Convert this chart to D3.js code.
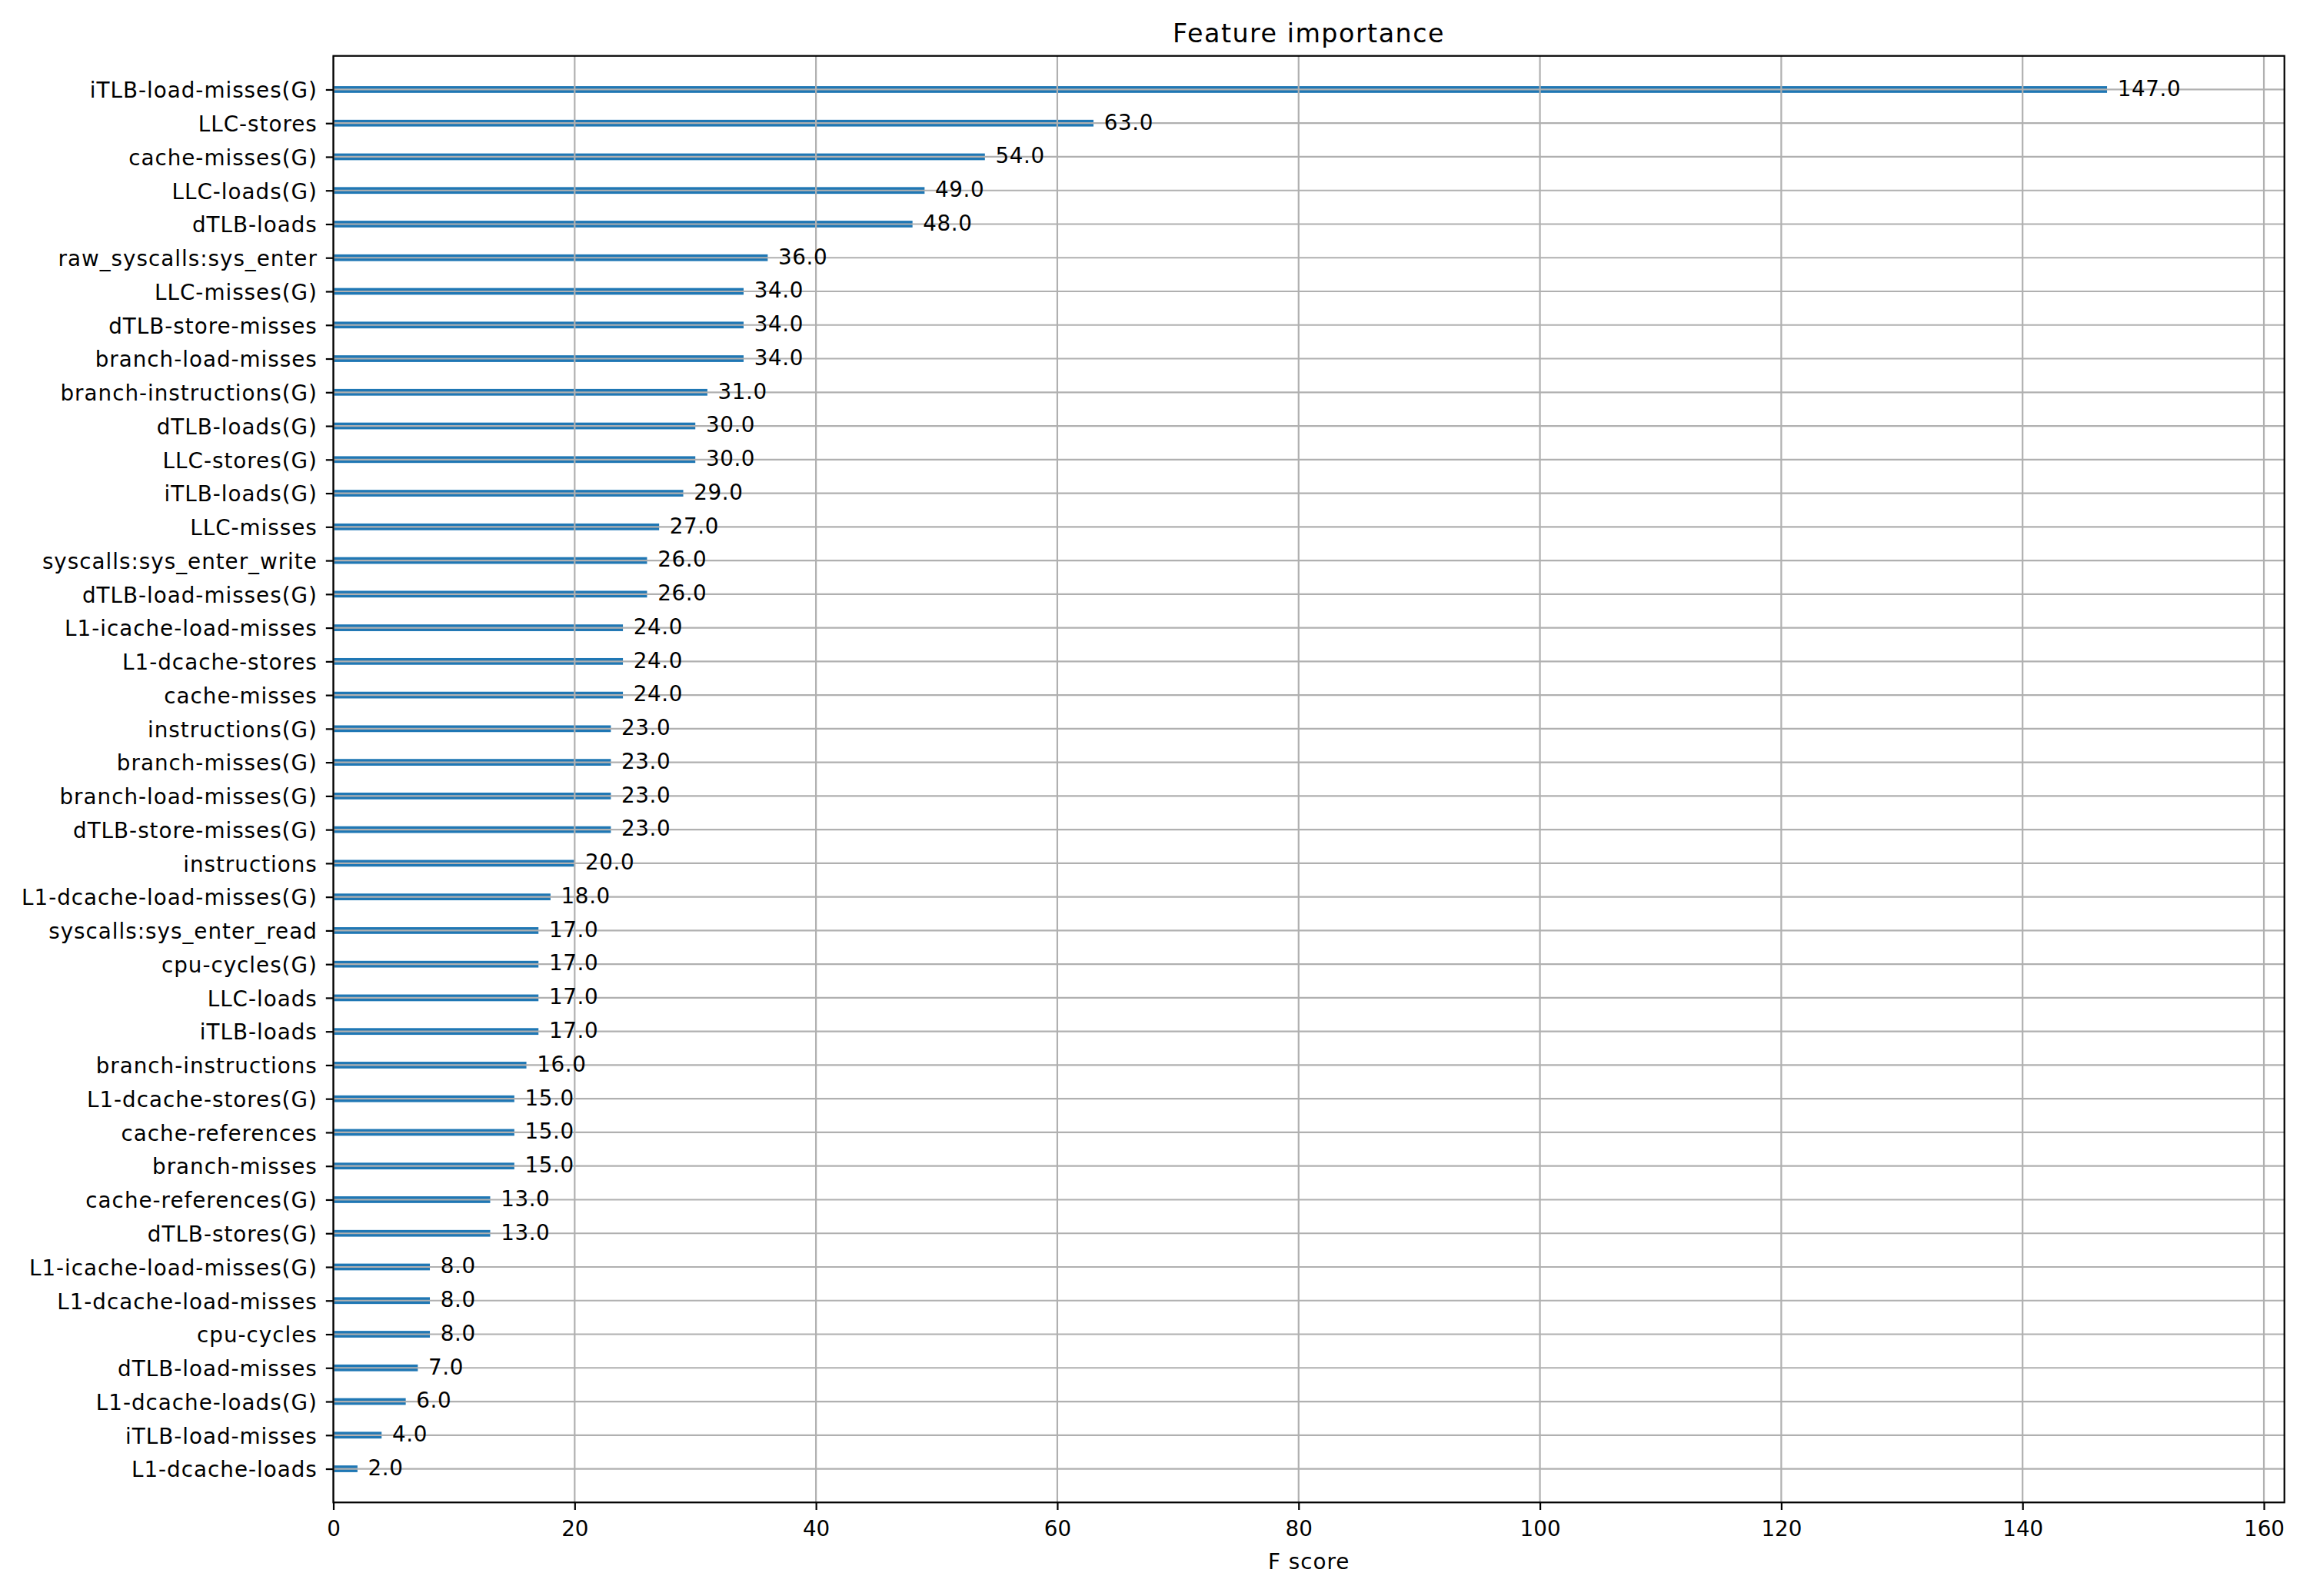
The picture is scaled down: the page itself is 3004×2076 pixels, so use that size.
<!DOCTYPE html>
<html>
<head>
<meta charset="utf-8">
<script src="https://cdn.jsdelivr.net/npm/d3@7"></script>
<style>
  html, body { margin: 0; padding: 0; background: #fff; }
  svg { display: block; font-family: "DejaVu Sans", sans-serif; }
</style>
</head>
<body>
<script>
// Features, listed top to bottom as in the chart
const features = [
  "iTLB-load-misses(G)", "LLC-stores", "cache-misses(G)", "LLC-loads(G)", "dTLB-loads",
  "raw_syscalls:sys_enter", "LLC-misses(G)", "dTLB-store-misses", "branch-load-misses",
  "branch-instructions(G)", "dTLB-loads(G)", "LLC-stores(G)", "iTLB-loads(G)", "LLC-misses",
  "syscalls:sys_enter_write", "dTLB-load-misses(G)", "L1-icache-load-misses", "L1-dcache-stores",
  "cache-misses", "instructions(G)", "branch-misses(G)", "branch-load-misses(G)",
  "dTLB-store-misses(G)", "instructions", "L1-dcache-load-misses(G)", "syscalls:sys_enter_read",
  "cpu-cycles(G)", "LLC-loads", "iTLB-loads", "branch-instructions", "L1-dcache-stores(G)",
  "cache-references", "branch-misses", "cache-references(G)", "dTLB-stores(G)",
  "L1-icache-load-misses(G)", "L1-dcache-load-misses", "cpu-cycles", "dTLB-load-misses",
  "L1-dcache-loads(G)", "iTLB-load-misses", "L1-dcache-loads"
];
const fscores = [
  147, 63, 54, 49, 48,
  36, 34, 34, 34,
  31, 30, 30, 29, 27,
  26, 26, 24, 24,
  24, 23, 23, 23,
  23, 20, 18, 17,
  17, 17, 17, 16, 15,
  15, 15, 13, 13,
  8, 8, 8, 7,
  6, 4, 2
];
const xTicks = [0, 20, 40, 60, 80, 100, 120, 140, 160];
const titleText = "Feature importance";
const xLabelText = "F score";

(function () {
const W = 3004, H = 2076;
const axLeft = 433.5, axRight = 2970.7, axTop = 72.7, axBottom = 1954.3;
const fs = 27.78;
const ls = "1px";
const n = features.length;
const rows = features.map((f, i) => ({ name: f, value: fscores[i], pos: n - 1 - i }));

const svg = d3.select("body").append("svg").attr("width", W).attr("height", H);

const x = d3.scaleLinear().domain([0, d3.max(fscores) * 1.1]).range([axLeft, axRight]);
const y = d3.scaleLinear().domain([-1, n]).range([axBottom, axTop]);
const barH = y(0) - y(0.2);

// bars
svg.append("g").selectAll("rect").data(rows).join("rect")
  .attr("x", x(0))
  .attr("y", d => y(d.pos) - barH / 2)
  .attr("width", d => x(d.value) - x(0))
  .attr("height", barH)
  .attr("fill", "#1f77b4");

// grid (on top of bars)
const grid = svg.append("g").attr("stroke", "#b0b0b0").attr("stroke-width", 2.2);
grid.selectAll("line.v").data(xTicks).join("line").attr("class", "v")
  .attr("x1", d => x(d)).attr("x2", d => x(d)).attr("y1", axTop).attr("y2", axBottom);
grid.selectAll("line.h").data(rows).join("line").attr("class", "h")
  .attr("x1", axLeft).attr("x2", axRight).attr("y1", d => y(d.pos)).attr("y2", d => y(d.pos));

// value labels
svg.append("g").selectAll("text").data(rows).join("text")
  .attr("x", d => x(d.value + 1) - 2)
  .attr("y", d => y(d.pos) + 8.3)
  .attr("font-size", fs)
  .attr("letter-spacing", "0.6px")
  .attr("fill", "#000")
  .text(d => d.value.toFixed(1));

// x axis
const xAxis = d3.axisBottom(x).tickValues(xTicks).tickFormat(d3.format("d"))
  .tickSize(9.7).tickPadding(9.7);
const gx = svg.append("g").attr("transform", `translate(0,${axBottom})`).call(xAxis);
gx.select(".domain").remove();
gx.selectAll(".tick line").attr("stroke", "#000").attr("stroke-width", 2.2);
gx.selectAll(".tick text").attr("font-size", fs).attr("font-family", "DejaVu Sans").attr("fill", "#000")
  .attr("dy", null).attr("y", 43.5);

// y axis
const yAxis = d3.axisLeft(y).tickValues(rows.map(d => d.pos))
  .tickFormat(p => rows.find(r => r.pos === p).name)
  .tickSize(9.7).tickPadding(11);
const gy = svg.append("g").attr("transform", `translate(${axLeft},0)`).call(yAxis);
gy.select(".domain").remove();
gy.selectAll(".tick line").attr("stroke", "#000").attr("stroke-width", 2.2);
gy.selectAll(".tick text").attr("font-size", fs).attr("font-family", "DejaVu Sans").attr("fill", "#000")
  .attr("letter-spacing", ls)
  .attr("dy", "0.37em");

// spines
svg.append("rect")
  .attr("x", axLeft).attr("y", axTop).attr("width", axRight - axLeft).attr("height", axBottom - axTop)
  .attr("fill", "none").attr("stroke", "#000").attr("stroke-width", 2.2);

// title
svg.append("text").attr("x", (axLeft + axRight) / 2).attr("y", 54.5)
  .attr("text-anchor", "middle").attr("font-size", 33.33).attr("fill", "#000")
  .attr("letter-spacing", "1.5px")
  .text(titleText);

// x label
svg.append("text").attr("x", (axLeft + axRight) / 2).attr("y", 2040.5)
  .attr("text-anchor", "middle").attr("font-size", fs).attr("fill", "#000")
  .attr("letter-spacing", ls)
  .text(xLabelText);
})();
</script>
</body>
</html>
